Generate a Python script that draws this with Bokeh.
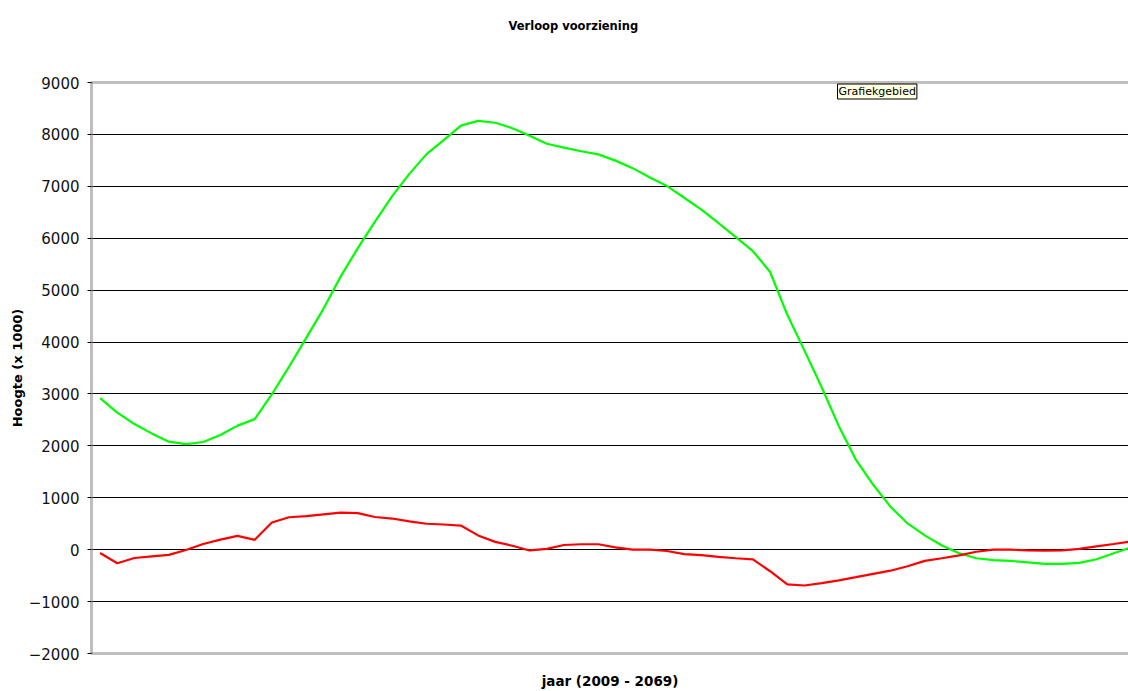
from bokeh.plotting import figure
from bokeh.models import Range1d, FixedTicker, LinearAxis, Label
from bokeh.embed import file_html
from bokeh.resources import INLINE

# ---- data -------------------------------------------------------------
years = list(range(2009, 2070))
groen = [2920, 2640, 2420, 2240, 2080, 2035, 2075, 2210, 2390, 2515,
         2995, 3525, 4080, 4640, 5260, 5810, 6320, 6810, 7240, 7620,
         7890, 8170, 8260, 8225, 8120, 7975, 7820, 7745, 7675, 7615,
         7495, 7350, 7170, 7005, 6780, 6550, 6290, 6020, 5750, 5350,
         4525, 3835, 3130, 2380, 1730, 1250, 830, 505, 275, 80,
         -70, -165, -200, -215, -245, -275, -275, -255, -185, -70, 45]
rood = [-65, -260, -160, -130, -100, -5, 110, 195, 265, 190,
        525, 625, 645, 680, 715, 705, 630, 600, 545, 500,
        485, 465, 275, 150, 75, -15, 15, 90, 105, 105,
        45, 0, 0, -25, -85, -105, -140, -165, -185, -415,
        -670, -690, -645, -590, -530, -465, -405, -320, -215, -165,
        -110, -40, 0, 0, -15, -20, -15, 15, 65, 110, 160]
y_ticks = list(range(-2000, 9001, 1000))

title_text = "Verloop voorziening"
x_label = "jaar (2009 - 2069)"
y_label = "Hoogte (x 1000)"
tooltip_text = "Grafiekgebied"

# ---- figure -----------------------------------------------------------
p = figure(width=1128, height=691, output_backend="svg", toolbar_location=None,
           x_range=Range1d(2008.5, 2068.86), y_range=Range1d(-2000, 9000),
           min_border_left=91, min_border_right=0, min_border_top=82,
           min_border_bottom=35)
p.background_fill_color = "white"
p.border_fill_color = "white"
p.outline_line_color = None

border_col = "#7f7f7f"

# x axis (no ticks)
p.xaxis.ticker = FixedTicker(ticks=[])
p.xaxis.major_tick_line_color = None
p.xaxis.minor_tick_line_color = None
p.xaxis.major_label_standoff = 0
p.xaxis.axis_line_color = border_col
p.xaxis.axis_line_width = 3
p.xaxis.axis_line_dash = "1 1"
p.xaxis.axis_label = x_label
p.xaxis.axis_label_text_font = "DejaVu Sans"
p.xaxis.axis_label_text_font_style = "bold"
p.xaxis.axis_label_text_font_size = "13.5px"
p.xaxis.axis_label_text_color = "black"
p.xaxis.axis_label_standoff = 19

# top border as axis (blank label used as spacer below the title)
top = LinearAxis(ticker=FixedTicker(ticks=[]), axis_line_color=border_col,
                 axis_line_width=3, axis_line_dash="1 1",
                 major_tick_line_color=None, minor_tick_line_color=None,
                 major_label_text_font_size="0px", major_label_standoff=0,
                 axis_label=" ", axis_label_text_font_size="10px",
                 axis_label_standoff=36)
p.add_layout(top, "above")

# y axis
p.yaxis.ticker = FixedTicker(ticks=y_ticks)
p.yaxis.minor_tick_line_color = None
p.yaxis.major_tick_in = 0
p.yaxis.major_tick_out = 4
p.yaxis.major_tick_line_color = "black"
p.yaxis.axis_line_color = border_col
p.yaxis.axis_line_width = 3
p.yaxis.axis_line_dash = "1 1"
p.yaxis.major_label_text_font = "DejaVu Sans"
p.yaxis.major_label_text_font_size = "15px"
p.yaxis.major_label_text_color = "#111111"
p.yaxis.major_label_standoff = 8
p.yaxis.axis_label = y_label
p.yaxis.axis_label_text_font = "DejaVu Sans"
p.yaxis.axis_label_text_font_style = "bold"
p.yaxis.axis_label_text_font_size = "13px"
p.yaxis.axis_label_text_color = "black"
p.yaxis.axis_label_standoff = 1

# grid
p.xgrid.grid_line_color = None
p.ygrid.grid_line_color = "black"
p.ygrid.grid_line_width = 1

# title
p.title.text = title_text
p.title.align = "left"
p.title.offset = 417
p.title.text_font = "DejaVu Sans"
p.title.text_font_style = "bold"
p.title.text_font_size = "11.5px"
p.title.text_color = "black"
p.title.standoff = 0

# series
p.line(years, groen, line_color="#00ff00", line_width=2.2)
p.line(years, rood, line_color="#ff0000", line_width=2.2)

# tooltip-like label, just inside the top border
tip = Label(x=746, y=562, x_units="screen", y_units="screen", text=tooltip_text,
            text_font="DejaVu Sans", text_font_size="11px", text_color="black",
            background_fill_color="#ffffe1", border_line_color="black",
            border_line_width=1, padding=1, text_baseline="middle", level="overlay")
p.add_layout(tip)

open("out.html", "w").write(file_html(p, INLINE))
